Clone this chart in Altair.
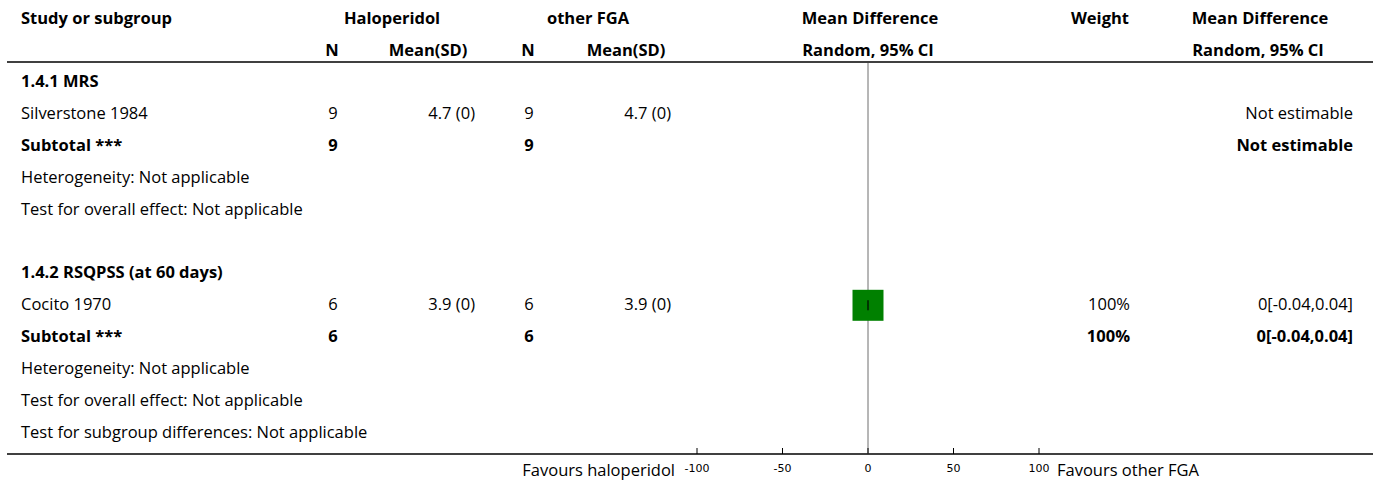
import altair as alt
import pandas as pd

# ---------------- data ----------------
row_labels = [
    "1.4.1 MRS",
    "Silverstone 1984",
    "Subtotal ***",
    "Heterogeneity: Not applicable",
    "Test for overall effect: Not applicable",
    "",
    "1.4.2 RSQPSS (at 60 days)",
    "Cocito 1970",
    "Subtotal ***",
    "Heterogeneity: Not applicable",
    "Test for overall effect: Not applicable",
    "Test for subgroup differences: Not applicable",
]
row_bold = [True, False, True, False, False, False, True, False, True, False, False, False]
halo_n = ["", "9", "9", "", "", "", "", "6", "6", "", "", ""]
halo_mean = ["", "4.7 (0)", "", "", "", "", "", "3.9 (0)", "", "", "", ""]
other_n = ["", "9", "9", "", "", "", "", "6", "6", "", "", ""]
other_mean = ["", "4.7 (0)", "", "", "", "", "", "3.9 (0)", "", "", "", ""]
weights = ["", "", "", "", "", "", "", "100%", "100%", "", "", ""]
md_text = ["", "Not estimable", "Not estimable", "", "", "", "",
           "0[-0.04,0.04]", "0[-0.04,0.04]", "", "", ""]

study_row = [7]
study_md = [0.0]
study_lo = [-0.04]
study_hi = [0.04]

axis_ticks = [-100, -50, 0, 50, 100]

# ---------------- layout ----------------
W, H = 1373, 484
ZERO_X = 868.0
PX_PER_UNIT = (1039 - 697) / 200.0
ROW0_Y = 82.0
ROW_STEP = 31.9
HEADER_LINE_Y = 62
AXIS_Y = 454
FONT = "Open Sans"
FS = 16.5

x_scale = alt.Scale(domain=[-ZERO_X / PX_PER_UNIT, (W - ZERO_X) / PX_PER_UNIT], nice=False, zero=False)
y_scale = alt.Scale(domain=[(H - ROW0_Y) / ROW_STEP, -ROW0_Y / ROW_STEP], nice=False, zero=False)

df = pd.DataFrame({
    "row": list(range(len(row_labels))),
    "label": row_labels,
    "bold": row_bold,
    "halo_n": halo_n,
    "halo_mean": halo_mean,
    "other_n": other_n,
    "other_mean": other_mean,
    "weight": weights,
    "md": md_text,
})
studies = pd.DataFrame({"row": study_row, "md": study_md, "lo": study_lo, "hi": study_hi})
ticks = pd.DataFrame({"t": axis_ticks})

Y = alt.Y("row:Q", scale=y_scale, axis=None)
X = lambda f: alt.X(f, scale=x_scale, axis=None)

layers = []

# column texts
columns = [
    ("label", 21, "left"),
    ("halo_n", 333, "center"),
    ("halo_mean", 475, "right"),
    ("other_n", 529, "center"),
    ("other_mean", 671, "right"),
    ("weight", 1130, "right"),
    ("md", 1353, "right"),
]
for field, xpx, align in columns:
    for b in (True, False):
        cond = "datum.bold" if b else "!datum.bold"
        layers.append(
            alt.Chart(df)
            .transform_filter(f"{cond} && datum.{field} != ''")
            .mark_text(align=align, baseline="middle", font=FONT, fontSize=FS,
                       fontWeight="bold" if b else "normal", color="black")
            .encode(x=alt.value(xpx), y=Y, text=f"{field}:N")
        )

# headers
headers = [
    ("Study or subgroup", 21, 19, "left"),
    ("Haloperidol", 392, 19, "center"),
    ("other FGA", 588, 19, "center"),
    ("Mean Difference", 870, 19, "center"),
    ("Weight", 1129, 19, "right"),
    ("Mean Difference", 1260, 19, "center"),
    ("N", 332, 51, "center"),
    ("Mean(SD)", 428, 51, "center"),
    ("N", 528, 51, "center"),
    ("Mean(SD)", 626, 51, "center"),
    ("Random, 95% CI", 868, 51, "center"),
    ("Random, 95% CI", 1258, 51, "center"),
]
for txt, xpx, ypx, align in headers:
    layers.append(
        alt.Chart(df.head(1))
        .mark_text(align=align, baseline="middle", font=FONT, fontSize=FS,
                   fontWeight="bold", color="black", text=txt)
        .encode(x=alt.value(xpx), y=alt.value(ypx))
    )

# header line and axis line
for ypx in (HEADER_LINE_Y, AXIS_Y):
    layers.append(
        alt.Chart(df.head(1))
        .mark_rule(color="black", strokeWidth=1.6)
        .encode(x=alt.value(7), x2=alt.value(W), y=alt.value(ypx))
    )

# zero line
layers.append(
    alt.Chart(pd.DataFrame({"z": [0]}))
    .mark_rule(color="#6f6f6f", strokeWidth=1)
    .encode(x=X("z:Q"), y=alt.value(HEADER_LINE_Y + 1), y2=alt.value(AXIS_Y))
)

# study square
layers.append(
    alt.Chart(studies)
    .mark_square(color="#008000", opacity=1, size=31 * 31)
    .encode(x=X("md:Q"), y=Y)
)
# CI
layers.append(
    alt.Chart(studies)
    .mark_rule(color="black", strokeWidth=1)
    .encode(x=X("lo:Q"), x2="hi:Q", y=Y)
)
layers.append(
    alt.Chart(studies)
    .transform_fold(["lo", "hi"], as_=["k", "v"])
    .mark_tick(orient="vertical", color="black", size=10, thickness=1)
    .encode(x=X("v:Q"), y=Y)
)

# axis ticks and labels
layers.append(
    alt.Chart(ticks)
    .mark_rule(color="black", strokeWidth=1)
    .encode(x=X("t:Q"), y=alt.value(AXIS_Y - 6), y2=alt.value(AXIS_Y))
)
layers.append(
    alt.Chart(ticks)
    .transform_calculate(lab="toString(datum.t)")
    .mark_text(baseline="middle", align="center", font="DejaVu Sans", fontSize=11, color="black")
    .encode(x=X("t:Q"), y=alt.value(469), text="lab:N")
)
for txt, xpx, align in [("Favours haloperidol", 675, "right"), ("Favours other FGA", 1057, "left")]:
    layers.append(
        alt.Chart(df.head(1))
        .mark_text(align=align, baseline="middle", font=FONT, fontSize=FS, color="black", text=txt)
        .encode(x=alt.value(xpx), y=alt.value(471))
    )

chart = (
    alt.layer(*layers)
    .properties(width=W, height=H, autosize="none", padding=0, background="white")
    .configure_view(stroke=None)
)
chart.save("out.html", embed_options={"renderer": "svg", "actions": False})
